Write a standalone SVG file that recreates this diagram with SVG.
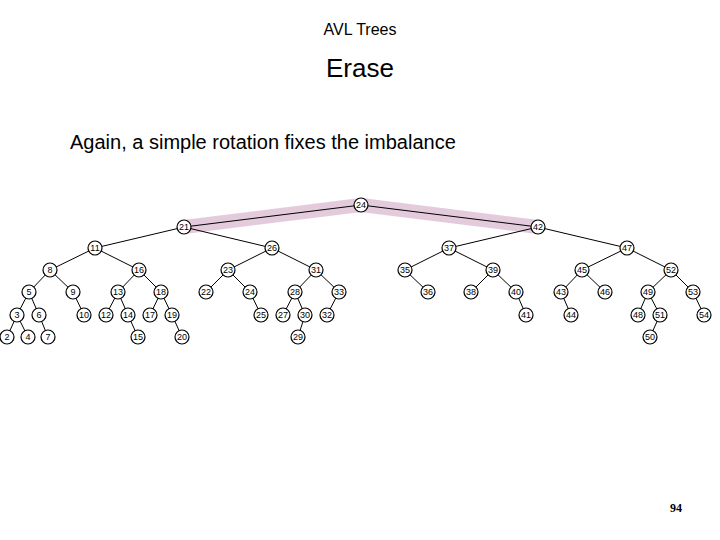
<svg xmlns="http://www.w3.org/2000/svg" width="720" height="540" viewBox="0 0 720 540">
<style>
.t{font-family:"Liberation Sans",Arial,sans-serif;fill:#000}
.n circle{fill:#fff;stroke:#000;stroke-width:1.2}
.n text{font-family:"Liberation Sans",Arial,sans-serif;font-size:9px;text-anchor:middle;fill:#000}
.e line{stroke:#000;stroke-width:1}
</style>
<rect width="720" height="540" fill="#fff"/>
<text class="t" x="360" y="35" font-size="16" text-anchor="middle">AVL Trees</text>
<text class="t" x="360" y="77" font-size="26" text-anchor="middle">Erase</text>
<text class="t" x="70" y="149" font-size="20">Again, a simple rotation fixes the imbalance</text>
<text x="676" y="512" font-family="Liberation Serif,serif" font-weight="bold" font-size="12" text-anchor="middle">94</text>
<polyline points="184,227 361,205 538,227" fill="none" stroke="#e4cbdc" stroke-width="14" stroke-linecap="round" stroke-linejoin="round"/>
<g id="connectors" class="e">
<line x1="361" y1="205" x2="184" y2="227"/><line x1="361" y1="205" x2="538" y2="227"/>
<line x1="184" y1="227" x2="95" y2="248"/><line x1="184" y1="227" x2="272" y2="248"/>
<line x1="95" y1="248" x2="50" y2="270"/><line x1="95" y1="248" x2="139" y2="270"/>
<line x1="272" y1="248" x2="228" y2="270"/><line x1="272" y1="248" x2="316" y2="270"/>
<line x1="50" y1="270" x2="29" y2="292"/><line x1="50" y1="270" x2="73" y2="292"/>
<line x1="139" y1="270" x2="118" y2="292"/><line x1="139" y1="270" x2="161" y2="292"/>
<line x1="228" y1="270" x2="206" y2="292"/><line x1="228" y1="270" x2="250" y2="292"/>
<line x1="316" y1="270" x2="295" y2="292"/><line x1="316" y1="270" x2="339" y2="292"/>
<line x1="29" y1="292" x2="17" y2="315"/><line x1="29" y1="292" x2="39" y2="315"/>
<line x1="73" y1="292" x2="84" y2="315"/>
<line x1="118" y1="292" x2="106" y2="315"/><line x1="118" y1="292" x2="128" y2="315"/>
<line x1="161" y1="292" x2="150" y2="315"/><line x1="161" y1="292" x2="172" y2="315"/>
<line x1="250" y1="292" x2="261" y2="315"/>
<line x1="295" y1="292" x2="283" y2="315"/><line x1="295" y1="292" x2="305" y2="315"/>
<line x1="339" y1="292" x2="327" y2="315"/>
<line x1="17" y1="315" x2="7" y2="337"/><line x1="17" y1="315" x2="28" y2="337"/>
<line x1="39" y1="315" x2="48" y2="337"/>
<line x1="128" y1="315" x2="138" y2="337"/>
<line x1="172" y1="315" x2="182" y2="337"/>
<line x1="305" y1="315" x2="298" y2="337"/>
<line x1="538" y1="227" x2="449" y2="248"/><line x1="538" y1="227" x2="627" y2="248"/>
<line x1="449" y1="248" x2="405" y2="270"/><line x1="449" y1="248" x2="493" y2="270"/>
<line x1="627" y1="248" x2="582" y2="270"/><line x1="627" y1="248" x2="671" y2="270"/>
<line x1="405" y1="270" x2="428" y2="292"/>
<line x1="493" y1="270" x2="471" y2="292"/><line x1="493" y1="270" x2="516" y2="292"/>
<line x1="582" y1="270" x2="561" y2="292"/><line x1="582" y1="270" x2="605" y2="292"/>
<line x1="671" y1="270" x2="648" y2="292"/><line x1="671" y1="270" x2="693" y2="292"/>
<line x1="516" y1="292" x2="526" y2="315"/>
<line x1="561" y1="292" x2="571" y2="315"/>
<line x1="648" y1="292" x2="638" y2="315"/><line x1="648" y1="292" x2="660" y2="315"/>
<line x1="693" y1="292" x2="704" y2="315"/>
<line x1="660" y1="315" x2="650" y2="337"/>
</g>
<g id="n24" class="n"><circle cx="361" cy="205" r="7"/><text x="361" y="208">24</text></g>
<g id="n21" class="n"><circle cx="184" cy="227" r="7"/><text x="184" y="230">21</text></g>
<g id="n42" class="n"><circle cx="538" cy="227" r="7"/><text x="538" y="230">42</text></g>
<g id="n11" class="n"><circle cx="95" cy="248" r="7"/><text x="95" y="251">11</text></g>
<g id="n26" class="n"><circle cx="272" cy="248" r="7"/><text x="272" y="251">26</text></g>
<g id="n37" class="n"><circle cx="449" cy="248" r="7"/><text x="449" y="251">37</text></g>
<g id="n47" class="n"><circle cx="627" cy="248" r="7"/><text x="627" y="251">47</text></g>
<g id="n8" class="n"><circle cx="50" cy="270" r="7"/><text x="50" y="273">8</text></g>
<g id="n16" class="n"><circle cx="139" cy="270" r="7"/><text x="139" y="273">16</text></g>
<g id="n23" class="n"><circle cx="228" cy="270" r="7"/><text x="228" y="273">23</text></g>
<g id="n31" class="n"><circle cx="316" cy="270" r="7"/><text x="316" y="273">31</text></g>
<g id="n35" class="n"><circle cx="405" cy="270" r="7"/><text x="405" y="273">35</text></g>
<g id="n39" class="n"><circle cx="493" cy="270" r="7"/><text x="493" y="273">39</text></g>
<g id="n45" class="n"><circle cx="582" cy="270" r="7"/><text x="582" y="273">45</text></g>
<g id="n52" class="n"><circle cx="671" cy="270" r="7"/><text x="671" y="273">52</text></g>
<g id="n5" class="n"><circle cx="29" cy="292" r="7"/><text x="29" y="295">5</text></g>
<g id="n9" class="n"><circle cx="73" cy="292" r="7"/><text x="73" y="295">9</text></g>
<g id="n13" class="n"><circle cx="118" cy="292" r="7"/><text x="118" y="295">13</text></g>
<g id="n18" class="n"><circle cx="161" cy="292" r="7"/><text x="161" y="295">18</text></g>
<g id="n22" class="n"><circle cx="206" cy="292" r="7"/><text x="206" y="295">22</text></g>
<g id="n24b" class="n"><circle cx="250" cy="292" r="7"/><text x="250" y="295">24</text></g>
<g id="n28" class="n"><circle cx="295" cy="292" r="7"/><text x="295" y="295">28</text></g>
<g id="n33" class="n"><circle cx="339" cy="292" r="7"/><text x="339" y="295">33</text></g>
<g id="n36" class="n"><circle cx="428" cy="292" r="7"/><text x="428" y="295">36</text></g>
<g id="n38" class="n"><circle cx="471" cy="292" r="7"/><text x="471" y="295">38</text></g>
<g id="n40" class="n"><circle cx="516" cy="292" r="7"/><text x="516" y="295">40</text></g>
<g id="n43" class="n"><circle cx="561" cy="292" r="7"/><text x="561" y="295">43</text></g>
<g id="n46" class="n"><circle cx="605" cy="292" r="7"/><text x="605" y="295">46</text></g>
<g id="n49" class="n"><circle cx="648" cy="292" r="7"/><text x="648" y="295">49</text></g>
<g id="n53" class="n"><circle cx="693" cy="292" r="7"/><text x="693" y="295">53</text></g>
<g id="n3" class="n"><circle cx="17" cy="315" r="7"/><text x="17" y="318">3</text></g>
<g id="n6" class="n"><circle cx="39" cy="315" r="7"/><text x="39" y="318">6</text></g>
<g id="n10" class="n"><circle cx="84" cy="315" r="7"/><text x="84" y="318">10</text></g>
<g id="n12" class="n"><circle cx="106" cy="315" r="7"/><text x="106" y="318">12</text></g>
<g id="n14" class="n"><circle cx="128" cy="315" r="7"/><text x="128" y="318">14</text></g>
<g id="n17" class="n"><circle cx="150" cy="315" r="7"/><text x="150" y="318">17</text></g>
<g id="n19" class="n"><circle cx="172" cy="315" r="7"/><text x="172" y="318">19</text></g>
<g id="n25" class="n"><circle cx="261" cy="315" r="7"/><text x="261" y="318">25</text></g>
<g id="n27" class="n"><circle cx="283" cy="315" r="7"/><text x="283" y="318">27</text></g>
<g id="n30" class="n"><circle cx="305" cy="315" r="7"/><text x="305" y="318">30</text></g>
<g id="n32" class="n"><circle cx="327" cy="315" r="7"/><text x="327" y="318">32</text></g>
<g id="n41" class="n"><circle cx="526" cy="315" r="7"/><text x="526" y="318">41</text></g>
<g id="n44" class="n"><circle cx="571" cy="315" r="7"/><text x="571" y="318">44</text></g>
<g id="n48" class="n"><circle cx="638" cy="315" r="7"/><text x="638" y="318">48</text></g>
<g id="n51" class="n"><circle cx="660" cy="315" r="7"/><text x="660" y="318">51</text></g>
<g id="n54" class="n"><circle cx="704" cy="315" r="7"/><text x="704" y="318">54</text></g>
<g id="n2" class="n"><circle cx="7" cy="337" r="7"/><text x="7" y="340">2</text></g>
<g id="n4" class="n"><circle cx="28" cy="337" r="7"/><text x="28" y="340">4</text></g>
<g id="n7" class="n"><circle cx="48" cy="337" r="7"/><text x="48" y="340">7</text></g>
<g id="n15" class="n"><circle cx="138" cy="337" r="7"/><text x="138" y="340">15</text></g>
<g id="n20" class="n"><circle cx="182" cy="337" r="7"/><text x="182" y="340">20</text></g>
<g id="n29" class="n"><circle cx="298" cy="337" r="7"/><text x="298" y="340">29</text></g>
<g id="n50" class="n"><circle cx="650" cy="337" r="7"/><text x="650" y="340">50</text></g>
</svg>
